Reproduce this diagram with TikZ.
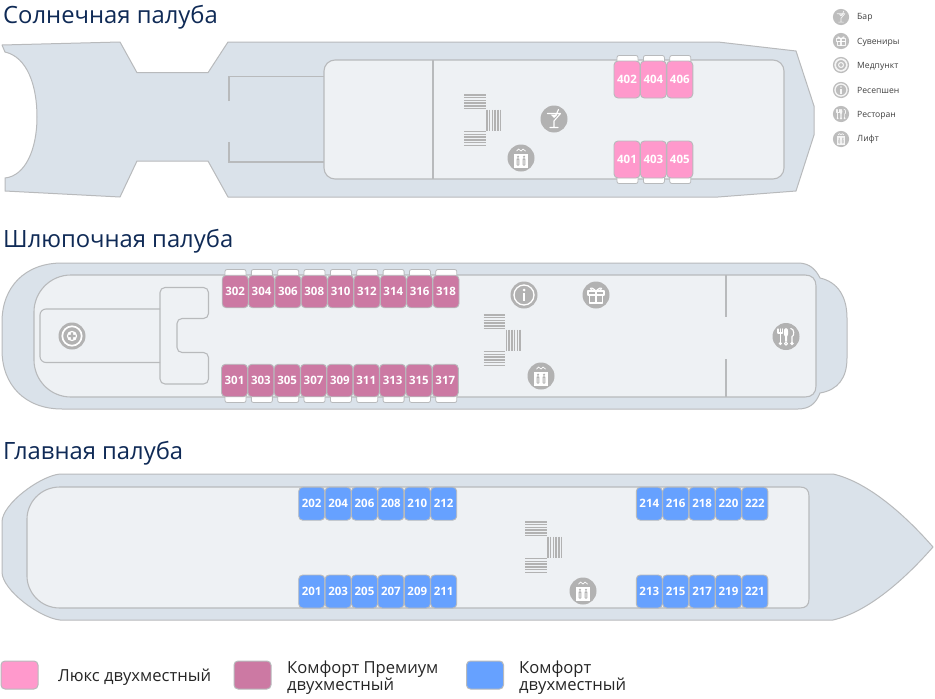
\documentclass[tikz,border=0pt]{standalone}
\usepackage{fontspec}
\setmainfont{Open Sans}
\definecolor{deckfill}{HTML}{DAE2EA}
\definecolor{roomfill}{HTML}{EEF1F4}
\definecolor{edgegrey}{HTML}{B8BABC}
\definecolor{icongrey}{HTML}{B2B2B2}
\definecolor{luxpink}{HTML}{FF99CC}
\definecolor{premmauve}{HTML}{CC79A3}
\definecolor{comfblue}{HTML}{66A1FF}
\definecolor{headnavy}{HTML}{0F2A56}
\tikzset{
  deck/.style={draw=edgegrey,fill=deckfill,line width=1pt,line join=round},
  room/.style={draw=edgegrey,fill=roomfill,line width=1.1pt},
  wall/.style={draw=edgegrey,line width=1.1pt},
  heading/.style={anchor=base west,inner sep=0pt,text=headnavy,font=\fontsize{23.8}{26}\selectfont},
  cabin/.style={draw=edgegrey,rounded corners=4pt,line width=0.9pt,minimum width=26pt,text=white,inner sep=0pt,
    font=\fontsize{11.5}{12}\selectfont\bfseries},
  balcony/.style={draw=edgegrey,fill=white,rounded corners=2pt,line width=0.8pt},
  stairline/.style={draw=icongrey,line width=1.4pt},
  icondisc/.style={fill=icongrey,draw=none},
  iconink/.style={draw=white,line width=1.1pt,line cap=round,line join=round},
  iconfill/.style={fill=white,draw=none},
  legendtext/.style={anchor=base west,inner sep=0pt,text=black!85,font=\fontsize{16.6}{17}\selectfont},
  keytext/.style={anchor=west,inner sep=0pt,text=black!75,font=\fontsize{8.6}{9}\selectfont},
  swatch/.style={draw=edgegrey,rounded corners=4pt,line width=1pt,minimum width=37pt,minimum height=28pt,inner sep=0pt},
  baricon/.pic={
    \fill[icondisc] (0,0) circle (13.5);
    \draw[iconink] (-6.5,-5.5) -- (6.5,-5.5) -- (0,2) -- (0,8.5) (-4,8.5) -- (4,8.5) (1.5,-3) -- (4.5,-9.5);
    \fill[iconfill] (-3.5,-4.5) -- (3.5,-4.5) -- (0,-1) -- cycle;
  },
  lifticon/.pic={
    \fill[icondisc] (0,0) circle (13.5);
    \draw[iconink,line width=0.7pt] (-4.5,-7) -- (-2.5,-9) -- (0,-7) -- (2,-9) -- (4.5,-7);
    \fill[iconfill] (-7,-4.5) rectangle (7,9.5);
    \fill[icondisc] (-3,-1.3) circle (1.2) (3,-1.3) circle (1.2);
    \fill[icondisc,rounded corners=0.8pt] (-4.4,0.3) rectangle (-1.6,7.5) (1.6,0.3) rectangle (4.4,7.5);
    \fill[iconfill] (-3.4,2) rectangle (-2.6,6.5) (2.6,2) rectangle (3.4,6.5);
  },
  gifticon/.pic={
    \fill[icondisc] (0,0) circle (13.5);
    \draw[iconink,line cap=butt] (-8,-4) rectangle (8,0);
    \draw[iconink,line cap=butt] (-6.5,0) rectangle (6.5,8);
    \draw[iconink,line cap=butt,line width=1.3pt] (0,-4) -- (0,8);
    \draw[iconink] (0,-4) .. controls (-7,-11) and (-8,-4) .. (0,-4) .. controls (8,-4) and (7,-11) .. (0,-4);
  },
  infoicon/.pic={
    \fill[icondisc] (0,0) circle (13.5);
    \draw[iconink,line width=1.3pt] (0,0) circle (10);
    \fill[iconfill] (0,-5) circle (1.5);
    \fill[iconfill] (-1.3,-2) rectangle (1.3,6);
  },
  medicon/.pic={
    \fill[icondisc] (0,0) circle (13.5);
    \draw[iconink,line width=1.7pt] (0,0) circle (9.7);
    \fill[iconfill] (0,0) circle (5.2);
    \fill[icondisc] (-3.6,-1.2) rectangle (3.6,1.2) (-1.2,-3.6) rectangle (1.2,3.6);
  },
  resticon/.pic={
    \fill[icondisc] (0,0) circle (13.5);
    \draw[iconink] (-8,-7.5) -- (-8,-3.5) -- (-3.5,-3.5) -- (-3.5,-7.5) (-5.7,-7.5) -- (-5.7,7);
    \fill[iconfill] (-5.7,7) circle (1.8);
    \fill[iconfill] (0,-8.5) .. controls (3,-8.5) and (2.6,-1) .. (1,0) -- (1,5) -- (-1,5) -- (-1,0) .. controls (-2.6,-1) and (-3,-8.5) .. (0,-8.5) -- cycle;
    \draw[iconink] (0,7.2) circle (1.5);
    \draw[iconink] (4.8,-8) .. controls (8.5,-8) and (8.5,0) .. (6,0) -- (6,6.5);
    \fill[iconfill] (6,7) circle (1.8);
  },
}
\newcommand{\stairsat}[2]{% top-left corner of the top flight
  \foreach \k in {0,...,5} {
    \draw[stairline] (#1,{#2+0.8+2.75*\k}) -- ({#1+21.5},{#2+0.8+2.75*\k});
    \draw[stairline] (#1,{#2+36.8+0.8+2.75*\k}) -- ({#1+21.5},{#2+36.8+0.8+2.75*\k});
    \draw[stairline] ({#1+22.8+2.75*\k},{#2+15.5}) -- ({#1+22.8+2.75*\k},{#2+36.8});
  }
}
\begin{document}
\begin{tikzpicture}[x=1pt,y=-1pt]
\path[use as bounding box,fill=white] (0,0) rectangle (935,699);

% ---------- Sun deck
\node[heading] (h1) at (3,23) {Солнечная палуба};
\draw[deck] (2,45) -- (120,42) -- (137,72.7) -- (208,72.7) -- (228,42) -- (718,42) -- (796,51) -- (814,106) -- (814,135) -- (796,191) -- (718,197) -- (228,197) -- (208,161) -- (137,161) -- (120,197) -- (5,191) -- (5,178)
  .. controls (25,176) and (37,150) .. (37,117) .. controls (37,85) and (27,57) .. (5,52) -- cycle;
\draw[room,rounded corners=11pt] (324,60) rectangle (784,179);
\draw[wall] (229,101) -- (229,76.7) -- (324,76.7);
\draw[wall] (229,142) -- (229,162) -- (324,162);
\draw[wall] (433,60) -- (433,179);
\stairsat{464}{94}
\pic at (554,119) {baricon};
\pic at (521,158) {lifticon};
\foreach \n [count=\i from 0] in {402,404,406} {
  \draw[balcony] ({617+26.4*\i},55.5) rectangle ({638+26.4*\i},64);
  \node[cabin,fill=luxpink,minimum height=37pt] (c\n) at ({627+26.4*\i},79.5) {\n};
}
\foreach \n [count=\i from 0] in {401,403,405} {
  \draw[balcony] ({617+26.4*\i},175) rectangle ({638+26.4*\i},183.5);
  \node[cabin,fill=luxpink,minimum height=37pt] (c\n) at ({627+26.4*\i},159.5) {\n};
}

% ---------- Icon key
\begin{scope}[opacity=0.85]
\tikzset{iconink/.append style={line width=0.7pt}}
\pic[scale=0.6] at (841,17) {baricon};
\pic[scale=0.6] at (841,41) {gifticon};
\pic[scale=0.6] at (841,65) {medicon};
\pic[scale=0.6] at (841,90) {infoicon};
\pic[scale=0.6] at (841,114) {resticon};
\pic[scale=0.6] at (841,139) {lifticon};
\end{scope}
\node[keytext] (k1) at (857,17.5) {Бар};
\node[keytext] (k2) at (857,42) {Сувениры};
\node[keytext] (k3) at (857,66) {Медпункт};
\node[keytext] (k4) at (857,90.5) {Ресепшен};
\node[keytext] (k5) at (857,115) {Ресторан};
\node[keytext] (k6) at (857,139.5) {Лифт};

% ---------- Boat deck
\node[heading] (h2) at (3,247) {Шлюпочная палуба};
\draw[deck] (820,278) .. controls (838,282) and (847,297) .. (847,318) -- (847,358) .. controls (847,378) and (838,390) .. (820,393)
  .. controls (816,403) and (810,409) .. (798,409) -- (62,409) .. controls (25,409) and (2,385) .. (2,350) -- (2,322) .. controls (2,287) and (25,263) .. (62,263) -- (798,263) .. controls (810,263) and (816,270) .. (820,278) -- cycle;
\draw[room] (71,275) -- (805,275) .. controls (812,275) and (816,279) .. (816,286) -- (816,386) .. controls (816,393) and (812,397) .. (805,397) -- (71,397) .. controls (50,397) and (34,380) .. (34,360) -- (34,312) .. controls (34,292) and (50,275) .. (71,275) -- cycle;
\draw[wall] (726,275) -- (726,317);
\draw[wall] (726,359) -- (726,397);
\draw[wall,rounded corners=6pt] (160,309) -- (40,309) -- (40,362.5) -- (160,362.5);
\draw[wall,rounded corners=5pt] (160,287.5) -- (208.5,287.5) -- (208.5,318.5) -- (177,318.5) -- (177,352.5) -- (208.5,352.5) -- (208.5,384) -- (160,384) -- cycle;
\stairsat{483.5}{314}
\pic at (72,336) {medicon};
\pic at (524,295) {infoicon};
\pic at (596,295) {gifticon};
\pic at (541,376) {lifticon};
\pic at (786,336.5) {resticon};
\foreach \n [count=\i from 0] in {302,304,306,308,310,312,314,316,318} {
  \draw[balcony] ({225+26.35*\i},269.5) rectangle ({246+26.35*\i},278);
  \node[cabin,fill=premmauve,minimum height=32.5pt] (c\n) at ({235.2+26.35*\i},291.5) {\n};
}
\foreach \n [count=\i from 0] in {301,303,305,307,309,311,313,315,317} {
  \draw[balcony] ({225+26.35*\i},394) rectangle ({246+26.35*\i},402.5);
  \node[cabin,fill=premmauve,minimum height=32.5pt] (c\n) at ({234.5+26.35*\i},380.5) {\n};
}

% ---------- Main deck
\node[heading] (h3) at (3,459) {Главная палуба};
\draw[deck] (60,474) -- (833,474) .. controls (868,482) and (905,515) .. (933,547) .. controls (905,579) and (868,612) .. (833,620) -- (60,620) .. controls (40,618) and (2,590) .. (2,572) -- (2,522) .. controls (2,504) and (40,476) .. (60,474) -- cycle;
\draw[room] (60,487) -- (800,487) .. controls (806,487) and (809,490) .. (809,496) -- (809,599) .. controls (809,605) and (806,608) .. (800,608) -- (60,608) .. controls (40,608) and (27,592) .. (27,576) -- (27,519) .. controls (27,503) and (40,487) .. (60,487) -- cycle;
\stairsat{525}{521}
\pic at (583,591) {lifticon};
\foreach \n [count=\i from 0] in {202,204,206,208,210,212} {
  \node[cabin,fill=comfblue,minimum height=33pt] (c\n) at ({311.7+26.4*\i},503.7) {\n};
}
\foreach \n [count=\i from 0] in {201,203,205,207,209,211} {
  \node[cabin,fill=comfblue,minimum height=33pt] (c\n) at ({311.7+26.4*\i},591.5) {\n};
}
\foreach \n [count=\i from 0] in {214,216,218,220,222} {
  \node[cabin,fill=comfblue,minimum height=33pt] (c\n) at ({649.3+26.4*\i},503.7) {\n};
}
\foreach \n [count=\i from 0] in {213,215,217,219,221} {
  \node[cabin,fill=comfblue,minimum height=33pt] (c\n) at ({649.3+26.4*\i},591.5) {\n};
}

% ---------- Legend
\node[swatch,fill=luxpink] (s1) at (19.5,675) {};
\node[legendtext] (t1) at (58,681) {Люкс двухместный};
\node[swatch,fill=premmauve] (s2) at (252.5,675) {};
\node[legendtext] (t2a) at (287,673) {Комфорт Премиум};
\node[legendtext] (t2b) at (287,690) {двухместный};
\node[swatch,fill=comfblue] (s3) at (485,675) {};
\node[legendtext] (t3a) at (519,673) {Комфорт};
\node[legendtext] (t3b) at (519,690) {двухместный};
\end{tikzpicture}
\end{document}
